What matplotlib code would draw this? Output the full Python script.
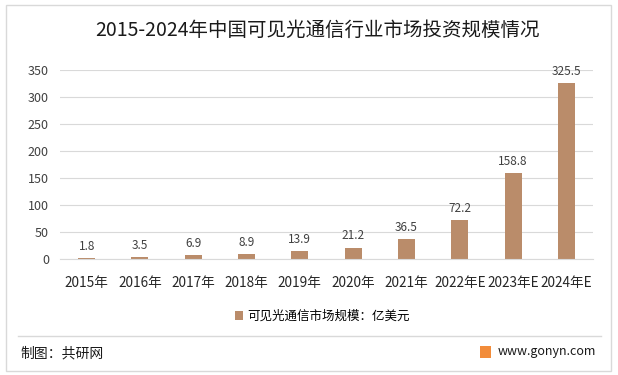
import matplotlib.pyplot as plt
from matplotlib.patches import Rectangle
from matplotlib.lines import Line2D

plt.rcParams['font.family'] = ['Noto Sans CJK SC', 'DejaVu Sans']

years = ['2015年', '2016年', '2017年', '2018年', '2019年', '2020年', '2021年',
         '2022年E', '2023年E', '2024年E']
values = [1.8, 3.5, 6.9, 8.9, 13.9, 21.2, 36.5, 72.2, 158.8, 325.5]
labels = ['1.8', '3.5', '6.9', '8.9', '13.9', '21.2', '36.5', '72.2', '158.8', '325.5']

W, H = 618, 375
fig = plt.figure(figsize=(W / 100, H / 100), dpi=100)
ax = fig.add_axes([60 / W, 1 - 259 / H, (593 - 60) / W, (259 - 70) / H])

bar_color = '#BA8C6A'
x = range(len(years))
ax.bar(x, values, width=0.32, color=bar_color, label='可见光通信市场规模：亿美元')
for i, v in enumerate(values):
    ax.text(i, v + 10, labels[i], ha='center', va='bottom', fontsize=8.5, color='#404040')

ax.set_ylim(0, 350)
ax.set_xlim(-0.5, len(years) - 0.5)
ax.set_yticks(range(0, 351, 50))
ax.set_xticks(list(x))
ax.set_xticklabels(years, fontsize=9.8, color='#262626')
ax.tick_params(axis='y', labelsize=9, colors='#404040', length=0, pad=8)
ax.tick_params(axis='x', length=0, pad=12)
ax.grid(axis='y', color='#D9D9D9', linewidth=0.8)
ax.set_axisbelow(True)
for s in ['top', 'right', 'left']:
    ax.spines[s].set_visible(False)
ax.spines['bottom'].set_color('#D9D9D9')

fig.text(317 / W, 1 - 30 / H, '2015-2024年中国可见光通信行业市场投资规模情况',
         ha='center', va='center', fontsize=14, color='#1a1a1a')

leg = fig.legend(loc='center', bbox_to_anchor=(322 / W, 1 - 316 / H), frameon=False,
                 fontsize=9, handlelength=0.7, handleheight=0.7, handletextpad=0.3)

# outer frame and footer
fig.add_artist(Rectangle((6 / W, 4 / H), 605 / W, 366 / H, transform=fig.transFigure,
                         fill=False, edgecolor='#D9D9D9', linewidth=1))
fig.add_artist(Line2D([18 / W, 601 / W], [1 - 336 / H, 1 - 336 / H], transform=fig.transFigure,
                      color='#D9D9D9', linewidth=1))
fig.text(20 / W, 1 - 353 / H, '制图：共研网', ha='left', va='center', fontsize=10, color='#1a1a1a')
fig.add_artist(Rectangle((480 / W, 1 - 358 / H), 11 / W, 12 / H, transform=fig.transFigure,
                         facecolor='#F28C3A', edgecolor='none'))
fig.text(596 / W, 1 - 352 / H, 'www.gonyn.com', ha='right', va='center', fontsize=9, color='#1a1a1a')

fig.savefig('out.png', dpi=100)
